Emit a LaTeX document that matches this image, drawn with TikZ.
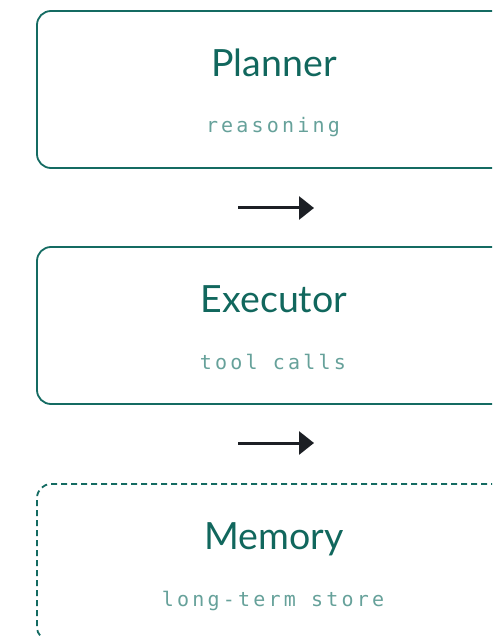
\documentclass[tikz,border=0pt]{standalone}
\usepackage{fontspec}
\setmainfont{Lato}
\newfontfamily\tagfont[LetterSpace=16]{DejaVu Sans Mono}
\usetikzlibrary{positioning, arrows.meta}
\definecolor{boxteal}{HTML}{146B62}
\definecolor{titleteal}{HTML}{11675D}
\definecolor{tagteal}{HTML}{66A19A}
\definecolor{arrowink}{HTML}{1C1F24}

\begin{document}
\begin{tikzpicture}[x=1pt, y=-1pt,
    stage/.style={draw=boxteal, line width=1.8pt, rounded corners=14pt, minimum width=474pt, minimum height=157pt, inner sep=0pt},
    memstage/.style={stage, dash pattern=on 6pt off 4pt},
    title/.style={anchor=base, inner sep=0pt, text=titleteal, font=\fontsize{37.5}{42}\selectfont},
    tag/.style={anchor=base, inner sep=0pt, text=tagteal, font=\tagfont\fontsize{20}{22}\selectfont},
    flow/.style={-{Triangle[length=15pt, width=23pt]}, line width=3pt, draw=arrowink}]
    \useasboundingbox (0,0) rectangle (492,636);
    \clip (0,0) rectangle (492,636);

    % Stages
    \node[stage] (planner) at (274,89.5) {};
    \node[stage] (executor) at (274,325.5) {};
    \node[memstage] (memory) at (274,562.5) {};

    % Labels
    \node[title] (plannername) at (274,77) {Planner};
    \node[tag] (plannertag) at (273,133) {reasoning};
    \node[title] (executorname) at (274,312) {Executor};
    \node[tag] (executortag) at (273,369) {tool calls};
    \node[title] (memoryname) at (274,549) {Memory};
    \node[tag] (memorytag) at (273,606) {long-term store};

    % Arrows
    \coordinate (pstart) at (238,208);
    \coordinate (pend) at (314,208);
    \coordinate (estart) at (238,443);
    \coordinate (eend) at (314,443);
    \draw[flow] (pstart) -- (pend);
    \draw[flow] (estart) -- (eend);
\end{tikzpicture}
\end{document}
